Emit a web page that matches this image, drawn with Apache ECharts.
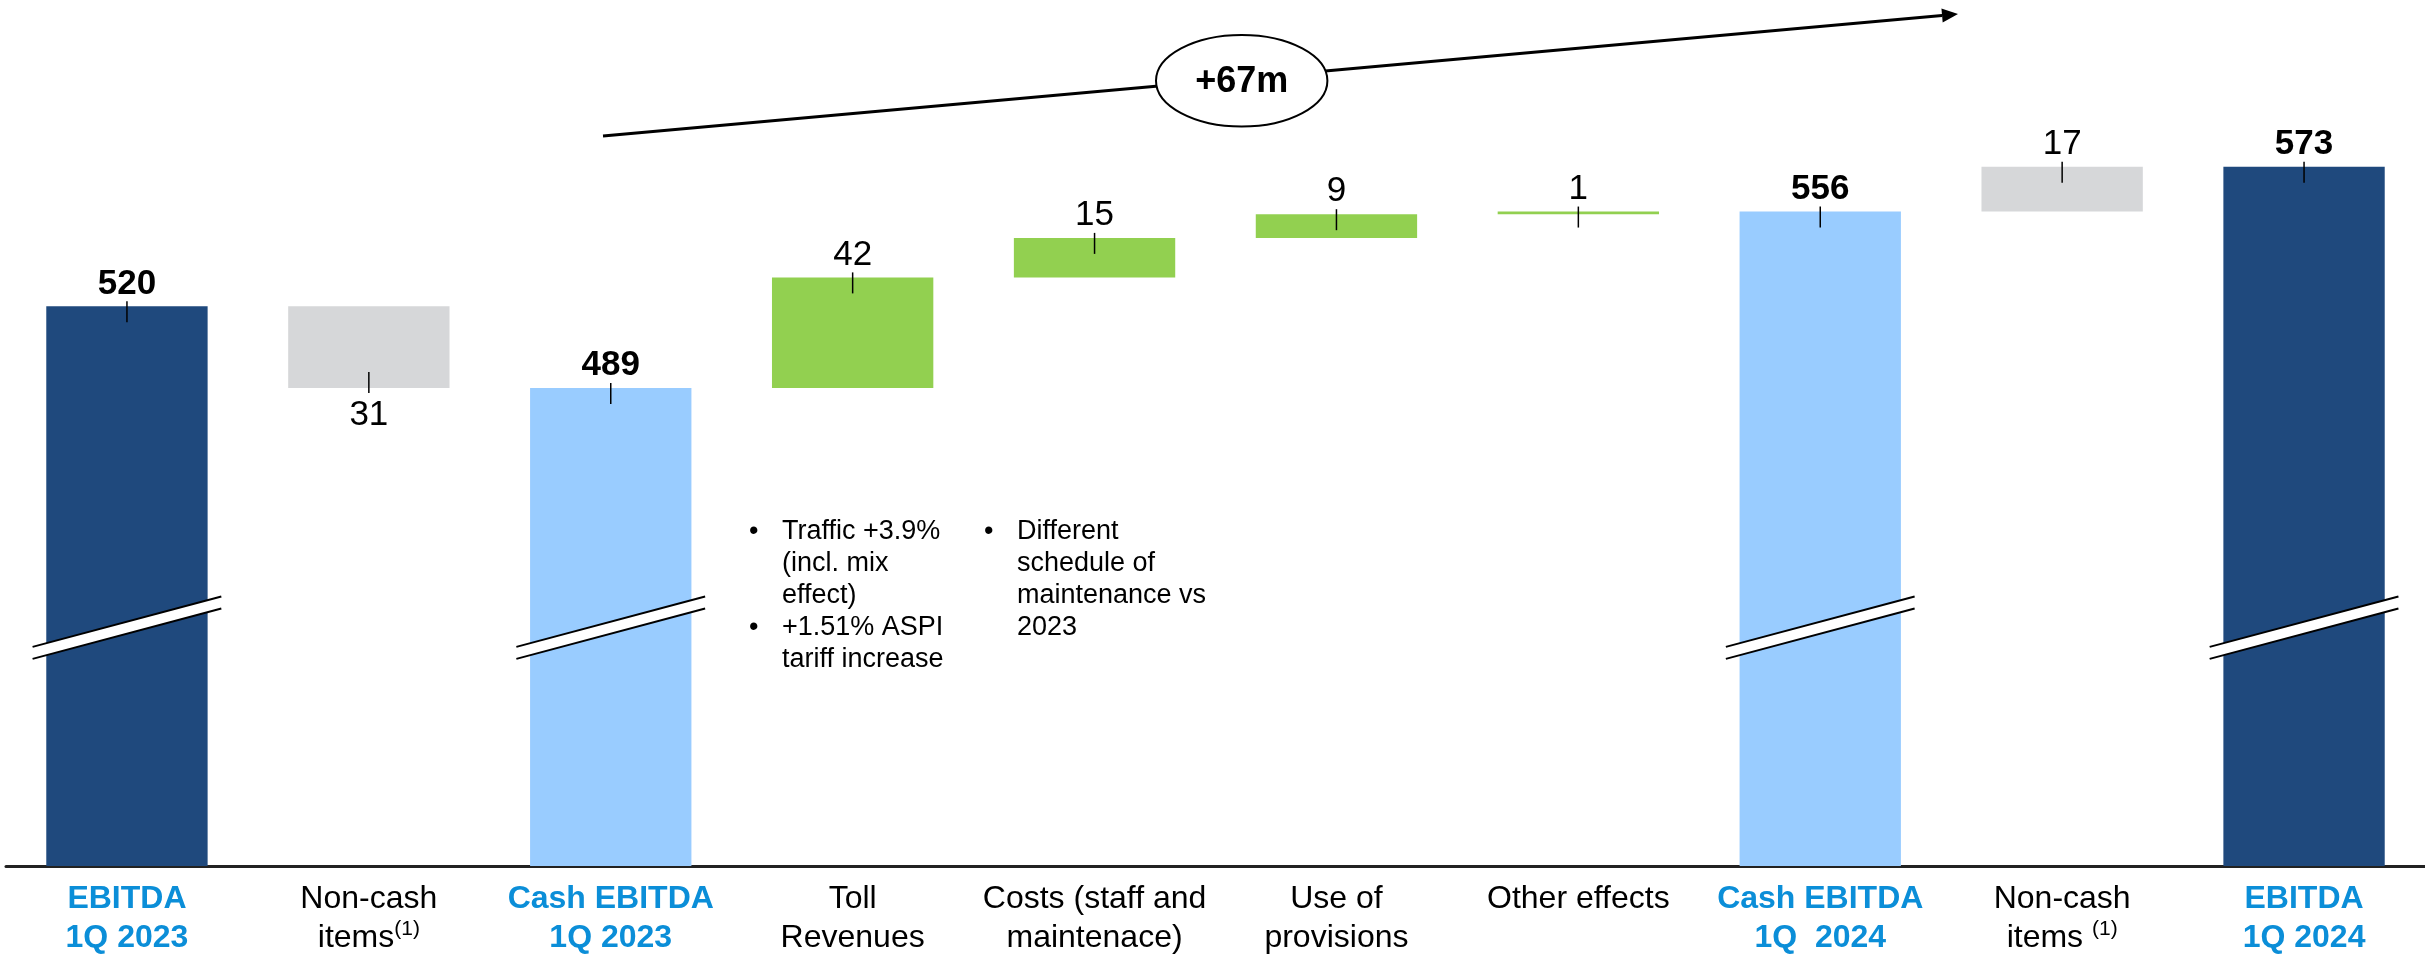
<!DOCTYPE html>
<html><head><meta charset="utf-8">
<script src="https://cdn.jsdelivr.net/npm/echarts@6/dist/echarts.min.js"></script>
<style>html,body{margin:0;padding:0;background:#fff}#c{width:2425px;height:955px}</style>
</head><body><div id="c"></div>
<script>
// ---- data ----
const categories = ['EBITDA\n1Q 2023', 'Non-cash\nitems(1)', 'Cash EBITDA\n1Q 2023', 'Toll\nRevenues',
  'Costs (staff and\nmaintenace)', 'Use of\nprovisions', 'Other effects', 'Cash EBITDA\n1Q  2024',
  'Non-cash\nitems (1)', 'EBITDA\n1Q 2024'];
const changes = [520, -31, 489, 42, 15, 9, 1, 556, 17, 573];
const kinds = ['ebitda', 'noncash', 'cash', 'delta', 'delta', 'delta', 'delta', 'cash', 'noncash', 'ebitda'];
const valueLabels = ['520', '31', '489', '42', '15', '9', '1', '556', '17', '573'];
const totalChangeLabel = '+67m';
const noteToll1 = ['Traffic +3.9%', '(incl. mix', 'effect)'];
const noteToll2 = ['+1.51% ASPI', 'tariff increase'];
const noteCosts = ['Different', 'schedule of', 'maintenance vs', '2023'];
const yMin = 307.5, yMax = 620, breakValue = 398;

// ---- styles ----
const FONT = '"Liberation Sans", Arial, sans-serif';
const colors = { ebitda: '#1F497D', noncash: '#D6D7D9', cash: '#99CCFF', delta: '#92D050' };
const isTotal = k => k === 'ebitda' || k === 'cash';

let running = 0;
const data = changes.map((v, i) => {
  let lo, hi;
  if (isTotal(kinds[i])) { lo = 0; hi = v; running = v; }
  else { const s = running, e = running + v; lo = Math.min(s, e); hi = Math.max(s, e); running = e; }
  return [i, lo, hi, v];
});

function renderItem(params, api) {
  const i = api.value(0), lo = api.value(1), hi = api.value(2), ch = api.value(3);
  const cs = params.coordSys;
  const bw = api.size([1, 0])[0] * 0.667;
  const pHi = api.coord([i, hi]);
  const pLo = api.coord([i, lo]);
  const bottom = Math.min(pLo[1], cs.y + cs.height);
  const cx = pHi[0];
  const kind = kinds[i];
  const children = [{
    type: 'rect', shape: { x: cx - bw / 2, y: pHi[1], width: bw, height: bottom - pHi[1] },
    style: { fill: colors[kind] }
  }];
  const neg = ch < 0;
  const edgeY = neg ? bottom : pHi[1];
  children.push({
    type: 'line',
    shape: neg ? { x1: cx, y1: edgeY - 16, x2: cx, y2: edgeY + 5 } : { x1: cx, y1: edgeY - 5, x2: cx, y2: edgeY + 16 },
    style: { stroke: '#000', lineWidth: 1.5 }, z2: 5
  });
  children.push({
    type: 'text', x: cx, y: neg ? edgeY + 10 : edgeY - 5,
    style: {
      text: valueLabels[i], fill: '#000', fontSize: 35, fontFamily: FONT,
      fontWeight: isTotal(kind) ? 'bold' : 'normal',
      align: 'center', verticalAlign: neg ? 'top' : 'bottom'
    }, z2: 6
  });
  if (isTotal(kind)) {
    const yc = api.coord([i, breakValue])[1];
    const ext = bw / 2 * 1.17, s = 0.267, g = 6;
    children.push({
      type: 'polygon',
      shape: { points: [[cx - ext, yc - g + ext * s], [cx + ext, yc - g - ext * s], [cx + ext, yc + g - ext * s], [cx - ext, yc + g + ext * s]] },
      style: { fill: '#fff' }, z2: 7
    });
    children.push({ type: 'line', shape: { x1: cx - ext, y1: yc - g + ext * s, x2: cx + ext, y2: yc - g - ext * s }, style: { stroke: '#000', lineWidth: 2 }, z2: 8 });
    children.push({ type: 'line', shape: { x1: cx - ext, y1: yc + g + ext * s, x2: cx + ext, y2: yc + g - ext * s }, style: { stroke: '#000', lineWidth: 2 }, z2: 8 });
  }
  return { type: 'group', children };
}

function noteText(x, y, lines) {
  return [
    { type: 'text', left: x - 33, top: y, style: { text: '•', fontSize: 27, fontFamily: FONT, fill: '#000', lineHeight: 32 } },
    { type: 'text', left: x, top: y, style: { text: lines.join('\n'), fontSize: 27, fontFamily: FONT, fill: '#000', lineHeight: 32 } }
  ];
}

const tip = [1958, 14], start = [603, 136];
const dx = tip[0] - start[0], dy = tip[1] - start[1], len = Math.hypot(dx, dy);
const ux = dx / len, uy = dy / len;
const hb = [tip[0] - 16 * ux, tip[1] - 16 * uy];

const chart = echarts.init(document.getElementById('c'));
chart.setOption({
  animation: false,
  backgroundColor: '#fff',
  grid: { left: 6, right: 0, top: 43, bottom: 89 },
  xAxis: {
    type: 'category', data: categories,
    axisTick: { show: false },
    axisLine: { lineStyle: { color: '#222', width: 3 } },
    axisLabel: {
      interval: 0, margin: 14,
      formatter: (val, idx) => {
        const st = isTotal(kinds[idx]) ? 'b' : 'n';
        return val.split('\n').map(line => {
          const m = line.match(/^(.*?)(\(1\))$/);
          return m ? `{${st}|${m[1]}}{s|${m[2]}}` : `{${st}|${line}}`;
        }).join('\n');
      },
      rich: {
        b: { fontSize: 32, fontWeight: 'bold', color: '#0B8ED8', lineHeight: 39, fontFamily: FONT },
        n: { fontSize: 32, color: '#000', lineHeight: 39, fontFamily: FONT },
        s: { fontSize: 21, color: '#000', lineHeight: 39, verticalAlign: 'top', fontFamily: FONT, padding: [0, 0, 12, 0] }
      }
    }
  },
  yAxis: { type: 'value', min: yMin, max: yMax, show: false, splitLine: { show: false } },
  series: [{ type: 'custom', renderItem, data, encode: { x: 0, y: [1, 2] } }],
  graphic: [
    { type: 'line', shape: { x1: start[0], y1: start[1], x2: hb[0], y2: hb[1] }, style: { stroke: '#000', lineWidth: 3 }, z: 10 },
    { type: 'polygon', shape: { points: [tip, [hb[0] - 7 * uy, hb[1] + 7 * ux], [hb[0] + 7 * uy, hb[1] - 7 * ux]] }, style: { fill: '#000' }, z: 10 },
    { type: 'ellipse', shape: { cx: 1241.7, cy: 80.8, rx: 85.7, ry: 45.8 }, style: { fill: '#fff', stroke: '#000', lineWidth: 2 }, z: 11 },
    { type: 'text', x: 1241.7, y: 82, style: { text: totalChangeLabel, fontSize: 36, fontWeight: 'bold', fontFamily: FONT, fill: '#000', align: 'center', verticalAlign: 'middle' }, z: 12 },
    ...noteText(782, 516, noteToll1),
    ...noteText(782, 612, noteToll2),
    ...noteText(1017, 516, noteCosts)
  ]
});
</script></body></html>
